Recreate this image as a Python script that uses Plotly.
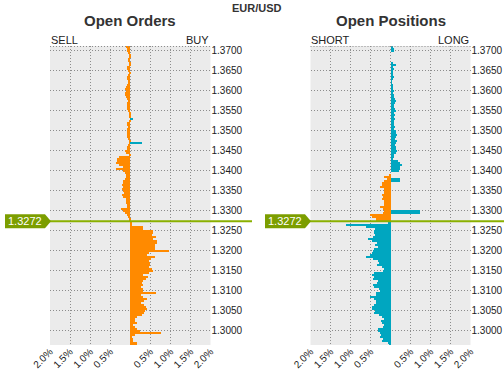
import plotly.graph_objects as go

W, H = 504, 369
ORANGE = "#FF8A00"
TEAL = "#00A6C0"
GREEN_LINE = "#8AB000"
GREEN_BOX = "#7C9E00"
GRID = "#8C8C8C"
BG = "#EBEBEB"
TXT = "#222222"

# ---------------- data ----------------
bin_size = 0.0005
top_bin_center = 1.37075
n_bins = 150
prices = [round(top_bin_center - bin_size * i, 5) for i in range(n_bins)]

current_price = 1.3272

# Open orders (percent): negative = sell side, positive = buy side
orders_orange = [
    -0.11, -0.09, -0.075, -0.06, -0.04, -0.04, -0.05, -0.06, -0.03, -0.04,
    -0.075, -0.07, -0.06, -0.04, -0.05, -0.075, -0.075, -0.06, -0.06, -0.09,
    -0.11, -0.125, -0.11, -0.12, -0.125, -0.1, -0.085, -0.06, -0.075, -0.09,
    -0.085, -0.07, -0.05, -0.03, -0.025, -0.02, 0, -0.04, -0.075, -0.07,
    -0.06, -0.09, -0.085, -0.075, -0.075, -0.07, -0.05, -0.03, -0.02, -0.06,
    -0.075, -0.09, -0.125, -0.11, -0.03, -0.28, -0.325, -0.34, -0.36, -0.29,
    -0.175, -0.36, -0.175, -0.125, -0.11, -0.1, -0.14, -0.175, -0.19, -0.21,
    -0.175, -0.2, -0.175, -0.16, -0.21, -0.175, -0.115, -0.1, -0.1, -0.09,
    -0.085, -0.225, -0.175, -0.125, -0.075, -0.05, -0.03, -0.02, 0.03, 0.04,
    0.325, 0.31, 0.56, 0.575, 0.55, 0.64, 0.575, 0.66, 0.675, 0.625,
    0.61, 0.61, 0.965, 0.475, 0.41, 0.615, 0.51, 0.475, 0.49, 0.49,
    0.46, 0.535, 0.575, 0.46, 0.325, 0.44, 0.39, 0.325, 0.29, 0.325,
    0.275, 0.325, 0.33, 0.64, 0.26, 0.325, 0.41, 0.34, 0.275, 0.34,
    0.39, 0.41, 0.375, 0.34, 0.29, 0.175, 0.125, 0.11, 0.16, 0.075,
    0.11, 0.175, 0.24, 0.765, 0.125, 0.05, 0.06, 0.075, 0.16, 0.16,
]
orders_teal = [0] * 36 + [0.067] + [0] * 11 + [0.29] + [0] * 101

# Open positions (percent): negative = short side, positive = long side
positions_orange = [0] * 60 + [
    0, 0, 0, 0, -0.033, -0.167, -0.1, -0.183, -0.217, -0.217,
    -0.267, -0.167, -0.167, -0.183, -0.217, -0.2, -0.217, -0.183, -0.167, -0.183,
    -0.283, -0.2, -0.167, -0.2, -0.517, -0.483, -0.383, -0.367, 0, 0,
] + [0] * 60
positions_teal = [
    0.033, 0.083, 0.067, 0, 0, 0, 0, 0, 0.033, 0.133,
    0.05, 0.067, 0.033, 0.05, 0.033, 0.067, 0.033, 0.017, 0.017, 0.05,
    0.05, 0.033, 0.067, 0.05, 0.083, 0.067, 0.1, 0.133, 0.1, 0.083,
    0.067, 0.1, 0.117, 0.083, 0.1, 0.083, 0.1, 0.083, 0.067, 0.083,
    0.1, 0.083, 0.133, 0.117, 0.15, 0.133, 0.1, 0.15, 0.117, 0.1,
    0.133, 0.117, 0.15, 0.117, 0.083, 0.067, 0.05, 0.183, 0.233, 0.267,
    0.217, 0.217, 0.2, 0, 0, 0, 0.233, 0.233, 0, 0,
    0, 0, 0, 0, 0, 0, 0, 0, 0, 0,
    0, 0, 0.725, 0.725, 0, 0, 0, 0, -0.083, -1.117,
    -0.617, -0.4, -0.417, -0.433, -0.4, -0.45, -0.567, -0.467, -0.35, -0.4,
    -0.333, -0.433, -0.45, -0.467, -0.533, -0.633, -0.45, -0.317, -0.3, -0.35,
    -0.217, -0.183, -0.2, -0.433, -0.467, -0.433, -0.45, -0.317, -0.35, -0.45,
    -0.417, -0.3, -0.283, -0.367, -0.367, -0.533, -0.433, -0.383, -0.383, -0.433,
    -0.483, -0.467, -0.4, -0.433, -0.3, -0.217, -0.183, -0.25, -0.217, -0.183,
    -0.2, -0.333, -0.333, -0.267, -0.25, -0.267, -0.2, -0.217, -0.083, -0.05,
]

x_tick_vals = [-2, -1.5, -1, -0.5, 0, 0.5, 1, 1.5, 2]
x_tick_text = ["2.0%", "1.5%", "1.0%", "0.5%", "", "0.5%", "1.0%", "1.5%", "2.0%"]
y_tick_vals = [1.3000, 1.3050, 1.3100, 1.3150, 1.3200, 1.3250, 1.3300, 1.3350,
               1.3400, 1.3450, 1.3500, 1.3550, 1.3600, 1.3650, 1.3700]
y_tick_text = [f"{v:.4f}" for v in y_tick_vals]
price_range = [1.29625, 1.3710]

# ---------------- figure ----------------
def px(x):
    return x / W

def py(y):
    return 1 - y / H

fig = go.Figure()
for vals, col, xa, ya in [
    (orders_orange, ORANGE, "x", "y"),
    (orders_teal, TEAL, "x", "y"),
    (positions_orange, ORANGE, "x2", "y2"),
    (positions_teal, TEAL, "x2", "y2"),
]:
    fig.add_trace(go.Bar(
        y=prices, x=vals, orientation="h", width=bin_size,
        marker=dict(color=col, line=dict(width=0)),
        xaxis=xa, yaxis=ya, hoverinfo="skip",
    ))

FONT = "Liberation Sans, Arial, sans-serif"
DOT = "1px,2px"
xcommon = dict(range=[-2, 2], tickmode="array", tickvals=x_tick_vals, ticktext=x_tick_text,
               tickangle=-45, tickfont=dict(family=FONT, size=10, color=TXT),
               ticklabelstandoff=-2,
               showgrid=True, gridcolor=GRID, griddash=DOT, gridwidth=1,
               zeroline=False, showline=False, ticks="", fixedrange=True, automargin=False)
ycommon = dict(range=price_range, tickmode="array", tickvals=y_tick_vals, ticktext=y_tick_text,
               side="right", tickfont=dict(family=FONT, size=10, color=TXT),
               showgrid=True, gridcolor=GRID, griddash=DOT, gridwidth=1,
               zeroline=False, showline=False, ticks="", fixedrange=True, automargin=False,
               domain=[py(345), py(46)])

fig.update_layout(
    width=W, height=H, margin=dict(l=0, r=0, t=0, b=0, autoexpand=False),
    paper_bgcolor="white", plot_bgcolor=BG,
    barmode="overlay", bargap=0, showlegend=False,
    xaxis=dict(domain=[px(50), px(210.5)], anchor="y", **xcommon),
    xaxis2=dict(domain=[px(310.5), px(470.5)], anchor="y2", **xcommon),
    yaxis=dict(anchor="x", **ycommon),
    yaxis2=dict(anchor="x2", **ycommon),
)

shapes = []
# dotted top border of each plot
for x0, x1 in [(50, 210.5), (310.5, 470.5)]:
    shapes.append(dict(type="line", xref="paper", yref="paper", x0=px(x0), x1=px(x1),
                       y0=py(46.5), y1=py(46.5), line=dict(color=GRID, width=1, dash=DOT)))
# current price lines
for x0, x1 in [(45, 252), (305, 504)]:
    shapes.append(dict(type="line", xref="paper", yref="y", x0=px(x0), x1=px(x1),
                       y0=current_price, y1=current_price, line=dict(color=GREEN_LINE, width=2)))
# price label boxes with arrow tip
half = 0.00175
for bx0, bx1, tip in [(5, 45, 51), (265, 305, 311)]:
    path = (f"M {px(bx0)},{current_price + half} L {px(bx1)},{current_price + half} "
            f"L {px(tip)},{current_price} L {px(bx1)},{current_price - half} "
            f"L {px(bx0)},{current_price - half} Z")
    shapes.append(dict(type="path", xref="paper", yref="y", path=path,
                       fillcolor=GREEN_BOX, line=dict(width=0)))
fig.update_layout(shapes=shapes)

ann = []
def text(x, y, s, size, bold=False, xanchor="center", color=TXT, yref="paper"):
    ann.append(dict(x=x, y=y, xref="paper", yref=yref, text=f"<b>{s}</b>" if bold else s,
                    showarrow=False, xanchor=xanchor, yanchor="middle",
                    font=dict(family=FONT, size=size, color=color)))

text(px(257), py(8), "EUR/USD", 11, bold=True, color="#333333")
text(px(130), py(21), "Open Orders", 15, bold=True, color="#333333")
text(px(390.5), py(21), "Open Positions", 15, bold=True, color="#333333")
text(px(49), py(40), "SELL", 11, xanchor="left")
text(px(211), py(40), "BUY", 11, xanchor="right")
text(px(309), py(40), "SHORT", 11, xanchor="left")
text(px(471), py(40), "LONG", 11, xanchor="right")
text(px(25), current_price, "1.3272", 11, color="white", yref="y")
text(px(285), current_price, "1.3272", 11, color="white", yref="y")
fig.update_layout(annotations=ann)

fig.write_html(
    "out.html",
    config={"displayModeBar": False},
    post_script="document.body.style.margin='0';document.body.style.overflow='hidden';",
)
